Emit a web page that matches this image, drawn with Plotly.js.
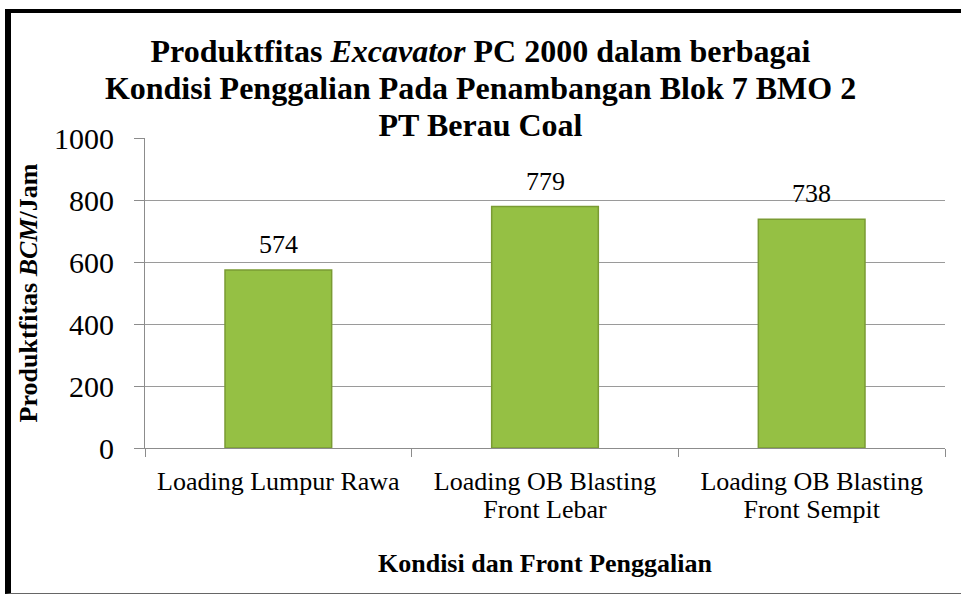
<!DOCTYPE html>
<html>
<head>
<meta charset="utf-8">
<script src="https://cdn.plot.ly/plotly-3.0.1.min.js"></script>
<style>
  html, body { margin: 0; padding: 0; background: #fff; }
  #wrap { position: relative; width: 961px; height: 595px; overflow: hidden; }
  #chart { position: absolute; left: 0; top: 0; width: 961px; height: 595px; }
  #frame { position: absolute; left: 5px; top: 9px; width: 960px; height: 585px;
           border-top: 4px solid #000; border-left: 6px solid #000; border-bottom: 1px solid #666;
           box-sizing: border-box; pointer-events: none; }
</style>
</head>
<body>
<div id="wrap">
  <div id="chart"></div>
  <div id="frame"></div>
</div>
<script>
// ---- data ----
const categories = ['Loading Lumpur Rawa', 'Loading OB Blasting<br>Front Lebar', 'Loading OB Blasting<br>Front Sempit'];
const values = [574, 779, 738];
const yTicks = [0, 200, 400, 600, 800, 1000];
const titleLines = ['Produktfitas <i>Excavator</i> PC 2000 dalam berbagai',
                    'Kondisi Penggalian Pada Penambangan Blok 7 BMO 2',
                    'PT Berau Coal'];
const yTitle = 'Produktfitas <i>BCM</i>/Jam';
const xTitle = 'Kondisi dan Front Penggalian';

const FONT = 'Liberation Serif, Times New Roman, serif';
const wrapLines = (txt, px, bold) => txt.split('<br>').map(l =>
  `<span style="font-size:${px}px;font-family:Liberation Serif${bold ? ';font-weight:bold' : ''}">${l}</span>`).join('<br>');

const trace = {
  type: 'bar',
  x: categories,
  y: values,
  width: 0.4,
  marker: { color: '#95c044', line: { color: '#7a9b33', width: 1.5 } },
  hoverinfo: 'none'
};

const annotations = values.map((v, i) => ({
  x: categories[i], y: v, xref: 'x', yref: 'y',
  text: String(v), showarrow: false, yanchor: 'bottom', yshift: 9,
  font: { family: FONT, size: 26, color: '#000' }
}));

const layout = {
  width: 961, height: 595,
  margin: { l: 145, r: 16, t: 138, b: 147 },
  paper_bgcolor: '#fff', plot_bgcolor: '#fff',
  showlegend: false,
  font: { family: FONT, color: '#000' },
  title: {
    text: wrapLines(titleLines.join('<br>'), 32, true),
    font: { family: FONT, size: 28.5, color: '#000', weight: 'bold' },
    x: 0.5, xref: 'container', xanchor: 'center',
    y: 1 - 62 / 595, yref: 'container', yanchor: 'top'
  },
  xaxis: {
    type: 'category',
    tickmode: 'array', tickvals: categories,
    ticktext: categories.map(c => wrapLines(c, 26, false)),
    tickfont: { family: FONT, size: 21.5, color: '#000' },
    ticks: 'outside', tickson: 'boundaries', ticklen: 8, tickcolor: '#8c8c8c', tickwidth: 1,
    showline: true, linecolor: '#8c8c8c', linewidth: 1,
    showgrid: false, zeroline: false,
    ticklabelstandoff: 15,
    title: { text: xTitle, font: { family: FONT, size: 26, color: '#000', weight: 'bold' }, standoff: 31 },
    fixedrange: true
  },
  yaxis: {
    range: [0, 1000],
    tickmode: 'array', tickvals: yTicks,
    tickfont: { family: FONT, size: 30, color: '#000' },
    ticks: 'outside', ticklen: 10, tickcolor: '#8c8c8c', tickwidth: 1,
    showline: true, linecolor: '#8c8c8c', linewidth: 1,
    showgrid: true, gridcolor: '#9a9a9a', gridwidth: 1,
    zeroline: false,
    ticklabelstandoff: 14,
    title: { text: yTitle, font: { family: FONT, size: 26, color: '#000', weight: 'bold' }, standoff: 8 },
    fixedrange: true
  },
  annotations: annotations
};

Plotly.newPlot('chart', [trace], layout, { displayModeBar: false, staticPlot: true });
</script>
</body>
</html>
